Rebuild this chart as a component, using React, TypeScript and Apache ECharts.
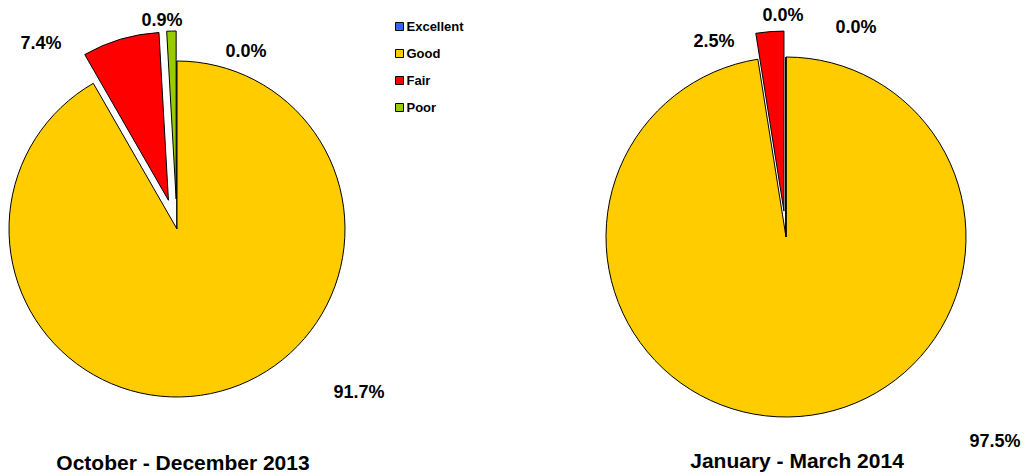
import React, { useEffect, useRef } from "react";
import * as echarts from "echarts";

const categories = ["Excellent", "Good", "Fair", "Poor"];
const colors = ["#3366FF", "#FFCC00", "#FF0000", "#99CC00"];
const q4_2013 = [0.0, 91.7, 7.4, 0.9];
const q1_2014 = [0.0, 97.5, 2.5, 0.0];
const exploded2013 = [false, false, true, true];
const exploded2014 = [false, false, true, false];
const titles = ["October - December 2013", "January - March 2014"];

// label anchor positions (layout only)
const labelPos2013 = [[246, 51], [359, 392], [41, 43], [162, 20]];
const labelPos2014 = [[856, 27], [995, 441], [714, 41], [783, 15]];

const FONT = "Liberation Sans, Arial, sans-serif";

export default function App() {
  const ref = useRef<HTMLDivElement>(null);
  useEffect(() => {
    document.body.style.margin = "0";
    const chart = echarts.init(ref.current!, null, { renderer: "svg" });
    const mk = (vals: number[], expl: boolean[]) =>
      vals.map((v, i) => ({
        name: categories[i],
        value: v,
        selected: expl[i],
        itemStyle: { color: colors[i] },
      }));
    const mkLabels = (vals: number[]) =>
      vals.map((v, i) => ({ name: categories[i], value: v }));
    const labelStyle = {
      show: true,
      formatter: (p: any) => `${Number(p.value).toFixed(1)}%`,
      fontFamily: FONT,
      fontWeight: "bold",
      fontSize: 18,
      color: "#000",
    };
    const slices = {
      type: "pie",
      startAngle: 90,
      clockwise: true,
      selectedMode: "multiple",
      avoidLabelOverlap: false,
      label: { show: false },
      labelLine: { show: false },
      itemStyle: { borderColor: "#000", borderWidth: 1 },
      emphasis: { disabled: true },
      legendHoverLink: false,
    };
    const labels = {
      type: "pie",
      startAngle: 90,
      clockwise: true,
      silent: true,
      selectedMode: false,
      avoidLabelOverlap: false,
      minShowLabelAngle: -1,
      label: labelStyle,
      labelLine: { show: false },
      itemStyle: { color: "rgba(0,0,0,0)", borderWidth: 0 },
      emphasis: { disabled: true },
      legendHoverLink: false,
      z: 5,
    };
    const layoutFor = (pos: number[][]) => (p: any) => ({
      x: pos[p.dataIndex][0],
      y: pos[p.dataIndex][1],
      align: "center",
      verticalAlign: "middle",
    });
    chart.setOption({
      animation: false,
      backgroundColor: "#fff",
      legend: {
        data: categories,
        orient: "vertical",
        left: 390,
        top: 15,
        itemWidth: 8,
        itemHeight: 8,
        itemGap: 14,
        icon: "rect",
        selectedMode: false,
        itemStyle: { borderColor: "#000", borderWidth: 1 },
        textStyle: {
          fontFamily: FONT,
          fontWeight: "bold",
          fontSize: 13,
          color: "#000",
          padding: [0, 0, 0, -2],
        },
      },
      graphic: [
        {
          type: "text",
          x: 183,
          y: 462,
          style: {
            text: titles[0],
            align: "center",
            verticalAlign: "middle",
            fontFamily: FONT,
            fontWeight: "bold",
            fontSize: 21,
            fill: "#000",
          },
        },
        {
          type: "text",
          x: 797,
          y: 460,
          style: {
            text: titles[1],
            align: "center",
            verticalAlign: "middle",
            fontFamily: FONT,
            fontWeight: "bold",
            fontSize: 21,
            fill: "#000",
          },
        },
      ],
      series: [
        {
          ...slices,
          name: titles[0],
          center: [177, 229],
          radius: [0, 168],
          selectedOffset: 30,
          data: mk(q4_2013, exploded2013),
        },
        {
          ...slices,
          name: titles[1],
          center: [786, 237],
          radius: [0, 180],
          selectedOffset: 26,
          data: mk(q1_2014, exploded2014),
        },
        {
          ...labels,
          name: titles[0] + " labels",
          center: [177, 229],
          radius: [0, 168],
          data: mkLabels(q4_2013),
          labelLayout: layoutFor(labelPos2013),
        },
        {
          ...labels,
          name: titles[1] + " labels",
          center: [786, 237],
          radius: [0, 180],
          data: mkLabels(q1_2014),
          labelLayout: layoutFor(labelPos2014),
        },
      ],
    });
    return () => chart.dispose();
  }, []);
  return <div ref={ref} style={{ width: 1026, height: 476 }} />;
}
